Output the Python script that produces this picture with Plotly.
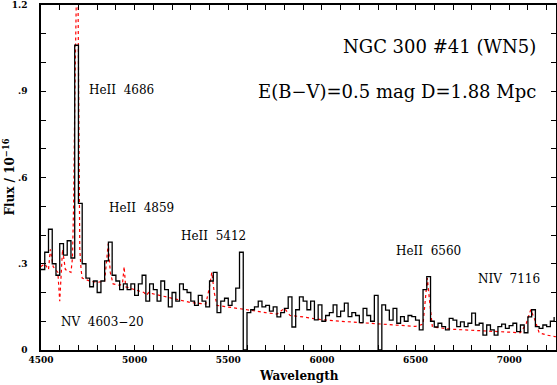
import numpy as np
import plotly.graph_objects as go

# observed spectrum, 20 A bins (left edge of each bin)
obs_wave = np.arange(4500, 7260, 20)
obs_flux = [
    0.28, 0.34, 0.42, 0.30, 0.26,
    0.37, 0.33, 0.38, 0.32, 1.06,
    0.51, 0.30, 0.25, 0.22, 0.24,
    0.20, 0.24, 0.31, 0.375, 0.26,
    0.24, 0.21, 0.23, 0.21, 0.23,
    0.19, 0.23, 0.26, 0.17, 0.23,
    0.21, 0.17, 0.24, 0.21, 0.15,
    0.20, 0.17, 0.23, 0.21, 0.20,
    0.17, 0.155, 0.19, 0.17, 0.15,
    0.24, 0.27, 0.13, 0.17, 0.18,
    0.155, 0.17, 0.215, 0.34, 0.0,
    0.13, 0.14, 0.15, 0.17, 0.15,
    0.155, 0.135, 0.15, 0.115, 0.13,
    0.145, 0.185, 0.08, 0.14, 0.185,
    0.17, 0.14, 0.17, 0.105, 0.157,
    0.10, 0.12, 0.13, 0.157, 0.116,
    0.135, 0.163, 0.116, 0.13, 0.12,
    0.095, 0.145, 0.12, 0.10, 0.19,
    0.0, 0.157, 0.139, 0.104, 0.145,
    0.093, 0.116, 0.10, 0.12, 0.116,
    0.104, 0.07, 0.21, 0.255, 0.10,
    0.08, 0.093, 0.081, 0.07, 0.11,
    0.104, 0.081, 0.098, 0.081, 0.093,
    0.128, 0.087, 0.093, 0.052, 0.087,
    0.07, 0.052, 0.081, 0.09, 0.075,
    0.085, 0.093, 0.064, 0.087, 0.06,
    0.115, 0.14, 0.081, 0.075, 0.087,
    0.081, 0.10, 0.115,
]

# model spectrum (red dotted)
model_wave = [4500, 4520, 4540, 4550, 4565, 4590, 4600, 4608, 4615, 4630, 4660,
              4668, 4674, 4681, 4689, 4695, 4701, 4707, 4714, 4720, 4760, 4800,
              4840, 4850, 4859, 4870, 4885, 4920, 4935, 4944, 4952, 5000, 5050,
              5062, 5075, 5100, 5200, 5300, 5380, 5400, 5412, 5425, 5440, 5500,
              5600, 5700, 5760, 5800, 5830, 5900, 6000, 6100, 6200, 6300, 6400,
              6500, 6540, 6555, 6563, 6575, 6590, 6700, 6800, 6900, 7000, 7060,
              7090, 7115, 7140, 7160, 7200, 7250]
model_flux = [0.29, 0.30, 0.28, 0.35, 0.29, 0.27, 0.17, 0.30, 0.35, 0.28, 0.27,
              0.32, 0.50, 0.90, 1.50, 1.50, 0.90, 0.35, 0.28, 0.25, 0.24, 0.235,
              0.24, 0.30, 0.37, 0.27, 0.23, 0.225, 0.23, 0.29, 0.22, 0.21, 0.20,
              0.19, 0.20, 0.195, 0.18, 0.165, 0.16, 0.22, 0.27, 0.20, 0.155, 0.15,
              0.14, 0.13, 0.125, 0.145, 0.12, 0.115, 0.105, 0.10, 0.095, 0.09, 0.085,
              0.082, 0.09, 0.20, 0.25, 0.17, 0.08, 0.072, 0.068, 0.065, 0.06, 0.06,
              0.09, 0.14, 0.10, 0.06, 0.052, 0.046]

# line ids: text, wavelength of left edge, flux
line_text = ["HeII  4686", "HeII  4859", "HeII  5412", "HeII  6560", "NIV  7116", "NV  4603\u221220"]
line_x = [4751, 4858, 5242, 6390, 6828, 4601]
line_y = [0.904, 0.494, 0.397, 0.344, 0.247, 0.097]

serif = "DejaVu Serif"

fig = go.Figure()
fig.add_trace(go.Scatter(x=model_wave, y=model_flux, mode="lines",
                         line=dict(color="red", width=1.2, dash="dot")))
fig.add_trace(go.Scatter(x=obs_wave, y=obs_flux, mode="lines", line_shape="hv",
                         line=dict(color="black", width=1.3)))

for t, x, y in zip(line_text, line_x, line_y):
    fig.add_annotation(x=x, y=y, text=t, showarrow=False, xanchor="left", yanchor="middle",
                       borderpad=0, font=dict(family=serif, size=12, color="black"))

fig.add_annotation(x=7148, y=1.054, text="NGC 300 #41 (WN5)", showarrow=False, borderpad=0,
                   xanchor="right", yanchor="middle", font=dict(family=serif, size=18, color="black"))
fig.add_annotation(x=7148, y=0.90, text="E(B\u2212V)=0.5 mag D=1.88 Mpc", showarrow=False, borderpad=0,
                   xanchor="right", yanchor="middle", font=dict(family=serif, size=18, color="black"))

# axis titles placed by hand so the margins stay fixed
fig.add_annotation(xref="paper", yref="paper", x=0.5, y=-0.075, text="<b>Wavelength</b>",
                   showarrow=False, xanchor="center", yanchor="middle",
                   font=dict(family=serif, size=12, color="black"))
fig.add_annotation(xref="paper", yref="paper", x=-0.064, y=0.5, text="<b>Flux / 10<sup>\u221216</sup></b>",
                   showarrow=False, textangle=-90, xanchor="center", yanchor="middle",
                   font=dict(family=serif, size=12, color="black"))

fig.update_layout(
    width=557, height=385,
    margin=dict(l=41, r=1, t=5, b=35),
    paper_bgcolor="white", plot_bgcolor="white",
    showlegend=False,
)
fig.update_xaxes(
    range=[4500, 7250], showgrid=False, zeroline=False, automargin=False,
    showline=True, linecolor="black", linewidth=1.5, mirror="ticks",
    ticks="inside", ticklen=5, tickwidth=1, tickcolor="black",
    tickvals=[4500, 5000, 5500, 6000, 6500, 7000],
    minor=dict(dtick=100, tick0=4500, ticks="inside", ticklen=5, tickcolor="black"),
    tickfont=dict(family=serif, size=9, color="black", weight="bold"),
)
fig.update_yaxes(
    range=[0, 1.2], showgrid=False, zeroline=False, automargin=False,
    showline=True, linecolor="black", linewidth=1.5, mirror="ticks",
    ticks="inside", ticklen=5, tickwidth=1, tickcolor="black",
    tickvals=[0, 0.3, 0.6, 0.9, 1.2], ticktext=["0", ".3", ".6", ".9", "1.2"],
    minor=dict(dtick=0.1, tick0=0, ticks="inside", ticklen=5, tickcolor="black"),
    ticklabelstandoff=10,
    tickfont=dict(family=serif, size=9, color="black", weight="bold"),
)

# the page body has a default 8px margin; drop it so the figure fills the window
fig.write_html("out.html", config={"displayModeBar": False},
               post_script="document.body.style.margin='0';")
